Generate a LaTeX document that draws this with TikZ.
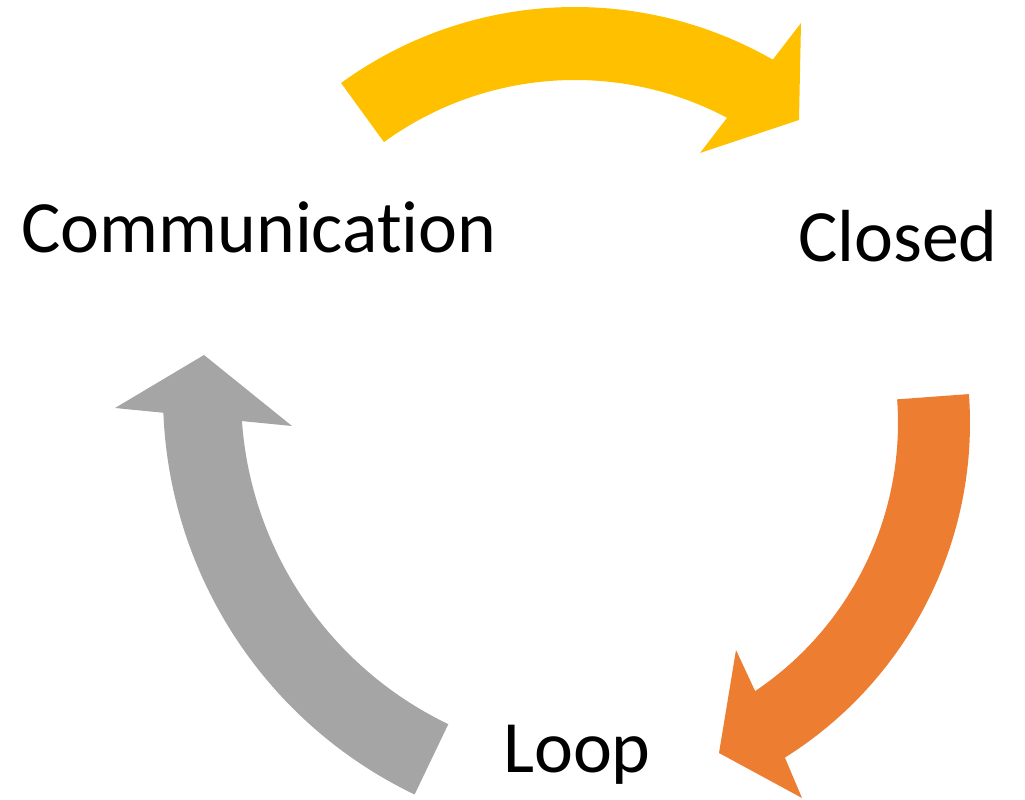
\documentclass[tikz,border=0pt]{standalone}
\usepackage{fontspec}
\setmainfont{Carlito}[Ligatures=NoCommon]
\usepackage{tikz}

\definecolor{arrowyellow}{HTML}{FFC000}
\definecolor{arroworange}{HTML}{ED7D31}
\definecolor{arrowgray}{HTML}{A5A5A5}

\begin{document}
\begin{tikzpicture}[x=0.02cm,y=0.02cm,
  word/.style={font=\fontsize{42}{50}\selectfont, inner sep=0pt, anchor=base}]
\useasboundingbox (0,0) rectangle (1025,799);

% Centres of the three arcs
\coordinate (cy) at (575,394);
\coordinate (co) at (575,376);
\coordinate (cg) at (606,404);

% Yellow arrow (top)
\fill [arrowyellow] ([shift={(126:398)}]cy) arc [start angle=126, end angle=60.2, radius=398]
  -- (801,776) -- (799,679) -- (700,646)
  -- ([shift={(62.1:325)}]cy) arc [start angle=62.1, end angle=126, radius=325] -- cycle;

% Orange arrow (right)
\fill [arroworange] ([shift={(4.2:395)}]co) arc [start angle=4.2, end angle=-57.9, radius=395]
  -- (802,1) -- (719,46) -- (736,149)
  -- ([shift={(-56.1:323)}]co) arc [start angle=-56.1, end angle=4.2, radius=323] -- cycle;

% Gray arrow (left)
\fill [arrowgray] ([shift={(244.4:443)}]cg) arc [start angle=244.4, end angle=182.3, radius=443]
  -- (115,391) -- (204,444) -- (292,373)
  -- ([shift={(184.1:365)}]cg) arc [start angle=184.1, end angle=244.4, radius=365] -- cycle;

% Labels
\node [word] (comm) at (259,546) {Communication};
\node [word] (closed) at (898,537) {Closed};
\node [word] (loop) at (577,27) {Loop};
\end{tikzpicture}
\end{document}
